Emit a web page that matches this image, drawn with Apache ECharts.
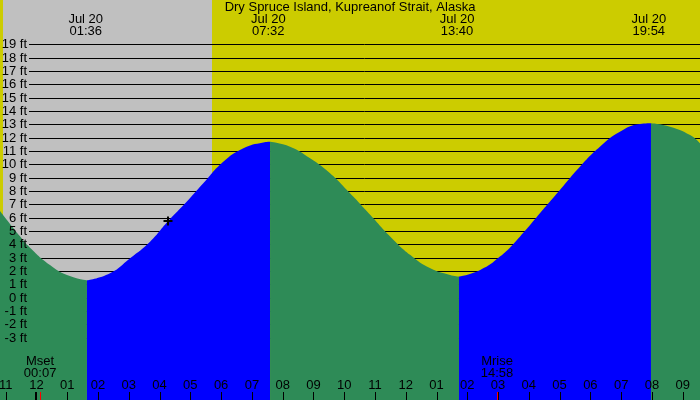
<!DOCTYPE html>
<html><head><meta charset="utf-8">
<script src="https://cdn.jsdelivr.net/npm/echarts@6/dist/echarts.min.js"></script>
<style>html,body{margin:0;padding:0;background:#fff}#c{width:700px;height:400px}</style>
</head><body><div id="c"></div>
<script>
// ---- data ----
const titleText = 'Dry Spruce Island, Kupreanof Strait, Alaska';
const tideHours = [-1.186, -0.536, -0.211, 0.439, 0.991, 1.64, 2.39, 3.04, 3.69, 4.28, 4.88, 5.42, 6.07, 6.71, 7.37, 7.59,
  8.24, 8.89, 9.54, 10.19, 10.85, 11.50, 12.15, 12.80, 13.44, 13.73,
  14.42, 15.06, 15.71, 16.36, 17.01, 17.66, 18.31, 18.96, 19.61, 19.97, 20.59, 21.24, 21.563];
const tideFeet = [6.5, 4.6, 3.75, 2.45, 1.7, 1.3, 1.83, 2.96, 4.2, 5.75, 7.2, 8.58, 10.2, 11.2, 11.65, 11.7,
  11.33, 10.46, 9.33, 7.83, 6.2, 4.58, 3.2, 2.2, 1.7, 1.58,
  2.08, 3.08, 4.58, 6.33, 8.08, 9.83, 11.33, 12.45, 13.03, 13.08, 12.83, 12.2, 11.58];
const fillSplits = [1.64, 7.59, 13.73, 19.97];
const fillColors = ['#2E8B57', '#0000FF', '#2E8B57', '#0000FF', '#2E8B57'];
const extremeHours = [1.6, 7.533, 13.667, 19.9];
const extremeDates = ['Jul 20', 'Jul 20', 'Jul 20', 'Jul 20'];
const extremeTimes = ['01:36', '07:32', '13:40', '19:54'];
const hourTicks = [-1, 0, 1, 2, 3, 4, 5, 6, 7, 8, 9, 10, 11, 12, 13, 14, 15, 16, 17, 18, 19, 20, 21];
const hourLabels = ['11', '12', '01', '02', '03', '04', '05', '06', '07', '08', '09', '10', '11', '12', '01', '02', '03', '04', '05', '06', '07', '08', '09'];
const ftTicks = [-3, -2, -1, 0, 1, 2, 3, 4, 5, 6, 7, 8, 9, 10, 11, 12, 13, 14, 15, 16, 17, 18, 19];
const ftLabels = ['-3 ft', '-2 ft', '-1 ft', '0 ft', '1 ft', '2 ft', '3 ft', '4 ft', '5 ft', '6 ft', '7 ft', '8 ft', '9 ft', '10 ft', '11 ft', '12 ft', '13 ft', '14 ft', '15 ft', '16 ft', '17 ft', '18 ft', '19 ft'];
const nightBands = [[-1.089, 5.70]];
const moonHours = [0.117, 14.967];
const moonNames = ['Mset', 'Mrise'];
const moonTimes = ['00:07', '14:58'];
const nowHour = 4.28, nowFeet = 5.75;

// ---- chart ----
const FONT = 'Liberation Sans, Arial, sans-serif';
const chart = echarts.init(document.getElementById('c'), null, {renderer: 'canvas'});

const segments = fillColors.map((color, i) => {
  const lo = i === 0 ? -Infinity : fillSplits[i - 1];
  const hi = i === fillColors.length - 1 ? Infinity : fillSplits[i];
  const data = [];
  tideHours.forEach((h, k) => { if (h >= lo - 1e-9 && h <= hi + 1e-9) data.push([h, tideFeet[k]]); });
  return {
    type: 'line', data, smooth: 0.5, showSymbol: false, z: 3, silent: true,
    lineStyle: {width: 0, color}, itemStyle: {color},
    areaStyle: {color, opacity: 1, origin: 'start'}
  };
});

function txt(text, x, y, align) {
  return {type: 'text', style: {text, x, y, textAlign: align || 'center', textVerticalAlign: 'middle',
    fontSize: 13, fontFamily: FONT, fill: '#000'}};
}

const series = [
  { // night band
    type: 'custom', z: 1, silent: true, data: nightBands,
    encode: {x: [0, 1]},
    renderItem: (params, api) => {
      const a = api.coord([api.value(0), 0]);
      const b = api.coord([api.value(1), 0]);
      const cs = params.coordSys;
      return {type: 'rect', shape: {x: Math.round(a[0]), y: cs.y, width: Math.round(b[0]) - Math.round(a[0]), height: cs.height},
        style: {fill: '#C0C0C0'}};
    }
  },
  { // horizontal grid lines
    type: 'custom', z: 2, silent: true, data: ftTicks.map(v => [0, v]),
    encode: {x: 0, y: 1},
    renderItem: (params, api) => {
      const p = api.coord([0, api.value(1)]);
      const cs = params.coordSys;
      const y = Math.round(p[1]) + 0.5;
      return {type: 'line', shape: {x1: cs.x + 29, y1: y, x2: cs.x + cs.width, y2: y},
        style: {stroke: '#000', lineWidth: 1}};
    }
  },
  ...segments,
  { // y labels
    type: 'custom', z: 5, silent: true, data: ftTicks.map(v => [0, v]),
    encode: {x: 0, y: 1},
    renderItem: (params, api) => {
      const p = api.coord([0, api.value(1)]);
      const cs = params.coordSys;
      return txt(ftLabels[params.dataIndex], cs.x + 27, Math.round(p[1]) + 0.5, 'right');
    }
  },
  { // hour ticks + labels
    type: 'custom', z: 5, silent: true, data: hourTicks.map(h => [h, 0]),
    encode: {x: 0, y: 1},
    renderItem: (params, api) => {
      const p = api.coord([api.value(0), 0]);
      const cs = params.coordSys;
      const bottom = cs.y + cs.height;
      const isMid = hourTicks[params.dataIndex] === 0;
      const x = isMid ? Math.round(p[0]) : Math.round(p[0]) + 0.5;
      return {type: 'group', children: [
        {type: 'line', shape: {x1: x, y1: bottom - 8, x2: x, y2: bottom}, style: {stroke: '#000', lineWidth: isMid ? 2 : 1}},
        txt(hourLabels[params.dataIndex], p[0], bottom - 14.5)
      ]};
    }
  },
  { // moon events
    type: 'custom', z: 6, silent: true, data: moonHours.map(h => [h, 0]),
    encode: {x: 0, y: 1},
    renderItem: (params, api) => {
      const p = api.coord([api.value(0), 0]);
      const cs = params.coordSys;
      const bottom = cs.y + cs.height;
      const x = Math.round(p[0]) + 0.5;
      const i = params.dataIndex;
      return {type: 'group', children: [
        {type: 'line', shape: {x1: x, y1: bottom - 8, x2: x, y2: bottom}, style: {stroke: '#FF0000', lineWidth: 1}},
        txt(moonNames[i], p[0], bottom - 39),
        txt(moonTimes[i], p[0], bottom - 26.5)
      ]};
    }
  },
  { // high / low header labels
    type: 'custom', z: 6, silent: true, data: extremeHours.map(h => [h, 0]),
    encode: {x: 0, y: 1},
    renderItem: (params, api) => {
      const p = api.coord([api.value(0), 0]);
      const cs = params.coordSys;
      const i = params.dataIndex;
      return {type: 'group', children: [
        txt(extremeDates[i], p[0], cs.y + 19.5),
        txt(extremeTimes[i], p[0], cs.y + 31.5)
      ]};
    }
  },
  { // current time marker
    type: 'custom', z: 6, silent: true, data: [[nowHour, nowFeet]],
    encode: {x: 0, y: 1},
    renderItem: (params, api) => {
      const p = api.coord([api.value(0), api.value(1)]);
      const x = Math.round(p[0]), y = Math.round(p[1]);
      return {type: 'group', children: [
        {type: 'line', shape: {x1: x - 4.5, y1: y, x2: x + 4.5, y2: y}, style: {stroke: '#000', lineWidth: 2}},
        {type: 'line', shape: {x1: x, y1: y - 4.5, x2: x, y2: y + 4.5}, style: {stroke: '#000', lineWidth: 2}}
      ]};
    }
  }
];

chart.setOption({
  animation: false,
  backgroundColor: '#CCCC00',
  grid: {left: 0, right: 0, top: 0, bottom: 0, containLabel: false},
  xAxis: {type: 'value', min: -1.186, max: 21.563, show: false},
  yAxis: {type: 'value', min: -7.675, max: 22.33, show: false},
  graphic: [{type: 'text', left: 'center', top: 1,
    style: {text: titleText, fontSize: 13, fontFamily: FONT, fill: '#000'}}],
  series
});
</script></body></html>
